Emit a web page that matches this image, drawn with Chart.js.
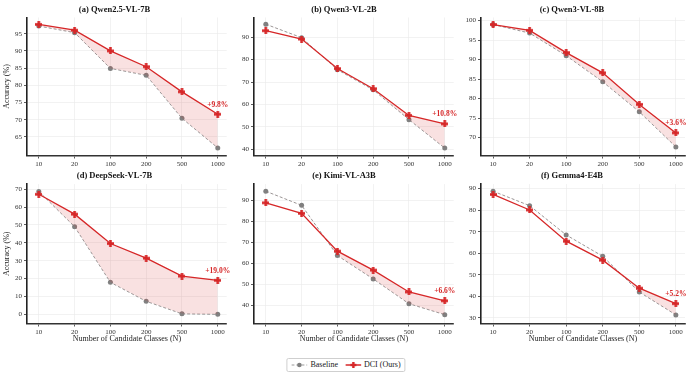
<!DOCTYPE html>
<html>
<head>
<meta charset="utf-8">
<script src="https://cdn.jsdelivr.net/npm/chart.js@4.4.1/dist/chart.umd.min.js"></script>
<style>
  body { margin: 0; background: #fff; }
  #wrap { position: relative; width: 691px; height: 379px; overflow: hidden; font-family: 'Liberation Serif', 'DejaVu Serif', serif; }
  #wrap canvas { position: absolute; }
  #legend { position: absolute; left: 346px; top: 358px; transform: translateX(-50%); height: 14px; padding: 0 4px; border: 1px solid #cfcfcf; border-radius: 2px;
    display: flex; align-items: center; white-space: nowrap; font-size: 8px; line-height: 8px; color: #222; box-sizing: border-box; }
  #legend span { margin-right: 7px; }
  #legend svg { margin-right: 3px; display: block; }
</style>
</head>
<body>
<div id="wrap">
  <div id="legend">
    <svg width="16" height="8"><line x1="0" y1="4" x2="16" y2="4" stroke="#808080" stroke-width="0.8" stroke-dasharray="3,2"/><circle cx="8" cy="4" r="2.3" fill="#808080"/></svg><span>Baseline</span>
    <svg width="16" height="8"><line x1="0" y1="4" x2="16" y2="4" stroke="#d62728" stroke-width="1.3"/><rect x="5" y="2.8" width="6" height="2.4" fill="#d62728"/><rect x="6.8" y="1" width="2.4" height="6" fill="#d62728"/></svg><span style="margin-right:0">DCI (Ours)</span>
  </div>
</div>
<script>
// Data
const classLabels = ['10', '20', '100', '200', '500', '1000'];

const baseQwen25_7B = [97.2, 95.3, 84.9, 82.9, 70.4, 61.8];
const dciQwen25_7B = [97.7, 96.0, 90.0, 85.4, 78.1, 71.6];

const baseQwen3_2B = [95.8, 89.8, 75.5, 66.5, 53.2, 40.5];
const dciQwen3_2B = [92.9, 89.2, 76.0, 67.0, 55.1, 51.3];

const baseQwen3_8B = [99.0, 96.8, 91.0, 84.3, 76.6, 67.6];
const dciQwen3_8B = [99.0, 97.5, 91.8, 86.6, 78.5, 71.2];

const baseDeepSeek = [68.7, 49.0, 17.9, 7.3, 0.3, 0.0];
const dciDeepSeek = [67.1, 56.0, 39.6, 31.4, 21.4, 19.0];

const baseKimi = [94.3, 87.6, 63.7, 52.6, 40.8, 35.6];
const dciKimi = [88.8, 83.8, 65.8, 56.8, 46.4, 42.2];

const baseGemma = [88.8, 82.1, 68.5, 58.6, 42.0, 31.4];
const dciGemma = [87.3, 80.1, 65.6, 56.8, 43.8, 36.6];

const gainLabels = ['+9.8%', '+10.8%', '+3.6%', '+19.0%', '+6.6%', '+5.2%'];

const ticksA = [65, 70, 75, 80, 85, 90, 95];
const ticksB = [40, 50, 60, 70, 80, 90];
const ticksC = [70, 75, 80, 85, 90, 95, 100];
const ticksD = [0, 10, 20, 30, 40, 50, 60, 70];
const ticksE = [40, 50, 60, 70, 80, 90];
const ticksF = [30, 40, 50, 60, 70, 80, 90];

const panels = [
	{ title: '(a) Qwen2.5-VL-7B', base: baseQwen25_7B, dci: dciQwen25_7B, yTicks: ticksA, yMin: 59.6, yMax: 99.7 },
	{ title: '(b) Qwen3-VL-2B', base: baseQwen3_2B, dci: dciQwen3_2B, yTicks: ticksB, yMin: 37.2, yMax: 98.8 },
	{ title: '(c) Qwen3-VL-8B', base: baseQwen3_8B, dci: dciQwen3_8B, yTicks: ticksC, yMin: 65.4, yMax: 100.8 },
	{ title: '(d) DeepSeek-VL-7B', base: baseDeepSeek, dci: dciDeepSeek, yTicks: ticksD, yMin: -5.1, yMax: 72.8 },
	{ title: '(e) Kimi-VL-A3B', base: baseKimi, dci: dciKimi, yTicks: ticksE, yMin: 31.4, yMax: 97.7 },
	{ title: '(f) Gemma4-E4B', base: baseGemma, dci: dciGemma, yTicks: ticksF, yMin: 27.4, yMax: 92.1 },
];

// layout boxes
const cols = [
	{ left: 0, width: 232, axisW: 27, padR: 3 },
	{ left: 232, width: 227, axisW: 22, padR: 3 },
	{ left: 459, width: 232, axisW: 22, padR: 6 },
];
const rows = [
	{ top: 0, height: 170, xAxisH: 14.5, padT: 5, padB: 2.3 },
	{ top: 168, height: 177, xAxisH: 21.5, padT: 3, padB: 2.9 },
];

const FONT = "'Liberation Serif', 'DejaVu Serif', serif";
const RED = '#d62728';
const GRAY = '#808080';

// filled plus marker
const plusMarker = document.createElement('canvas');
plusMarker.width = 7;
plusMarker.height = 7;
!(function () {
	const c = plusMarker.getContext('2d');
	c.fillStyle = RED;
	c.fillRect(0, 2.2, 7, 2.6);
	c.fillRect(2.2, 0, 2.6, 7);
})();

const gainLabel = {
	id: 'gainLabel',
	afterDatasetsDraw(chart, args, opts) {
		const pt = chart.getDatasetMeta(1).data[5];
		const ctx = chart.ctx;
		ctx.save();
		ctx.fillStyle = RED;
		ctx.font = 'bold 7.5px ' + FONT;
		ctx.textAlign = 'center';
		ctx.textBaseline = 'middle';
		ctx.fillText(opts.text, pt.x, pt.y - 9.5);
		ctx.restore();
	},
};

const wrap = document.getElementById('wrap');

panels.forEach((p, i) => {
	const col = cols[i % 3];
	const row = rows[Math.floor(i / 3)];
	const canvas = document.createElement('canvas');
	canvas.width = col.width;
	canvas.height = row.height;
	canvas.style.left = col.left + 'px';
	canvas.style.top = row.top + 'px';
	wrap.appendChild(canvas);

	new Chart(canvas, {
		type: 'line',
		data: {
			labels: classLabels,
			datasets: [
				{
					label: 'Baseline',
					data: p.base.map((v, k) => ({ x: k, y: v })),
					borderColor: GRAY,
					backgroundColor: GRAY,
					borderWidth: 0.8,
					borderDash: [3, 2],
					pointStyle: 'circle',
					pointRadius: 2.5,
					pointBorderWidth: 0,
					fill: false,
					order: 1,
				},
				{
					label: 'DCI (Ours)',
					data: p.dci.map((v, k) => ({ x: k, y: v })),
					borderColor: RED,
					backgroundColor: RED,
					borderWidth: 1.3,
					pointStyle: plusMarker,
					pointRadius: 4,
					fill: { target: '-1', above: 'rgba(214,39,40,0.14)', below: 'rgba(0,0,0,0)' },
					order: 0,
				},
			],
		},
		options: {
			responsive: false,
			animation: false,
			devicePixelRatio: 1,
			layout: { padding: { right: col.padR, left: 0, top: 0, bottom: 0 } },
			scales: {
				x: {
					type: 'linear',
					min: -0.33,
					max: 5.25,
					afterBuildTicks: (s) => { s.ticks = classLabels.map((l, k) => ({ value: k })); },
					afterFit: (s) => { s.height = row.xAxisH; },
					ticks: {
						callback: (v) => classLabels[v],
						font: { family: FONT, size: 7 },
						color: '#333',
						padding: 1,
						maxRotation: 0,
						autoSkip: false,
					},
					grid: {
						color: '#e9e9e9',
						lineWidth: 0.6,
						borderDash: [2, 2],
						tickColor: '#333',
						tickLength: 3,
						tickWidth: 0.8,
						tickBorderDash: [],
					},
					border: { display: true, color: '#333', width: 1.6 },
					title: {
						display: i >= 3,
						text: 'Number of Candidate Classes (N)',
						font: { family: FONT, size: 8 },
						color: '#222',
						padding: { top: 0, bottom: 1 },
					},
				},
				y: {
					min: p.yMin,
					max: p.yMax,
					afterBuildTicks: (s) => { s.ticks = p.yTicks.map((v) => ({ value: v })); },
					afterFit: (s) => { s.width = col.axisW; },
					ticks: {
						font: { family: FONT, size: 7 },
						color: '#333',
						padding: 2,
					},
					grid: {
						color: '#e9e9e9',
						lineWidth: 0.6,
						borderDash: [2, 2],
						tickColor: '#333',
						tickLength: 3,
						tickWidth: 0.8,
						tickBorderDash: [],
					},
					border: { display: true, color: '#222', width: 1.6 },
					title: {
						display: i % 3 === 0,
						text: 'Accuracy (%)',
						font: { family: FONT, size: 8 },
						color: '#222',
						padding: { top: 2, bottom: 0 },
					},
				},
			},
			plugins: {
				legend: { display: false },
				tooltip: { enabled: false },
				title: {
					display: true,
					text: p.title,
					font: { family: FONT, size: 8.5, weight: 'bold' },
					color: '#111',
					padding: { top: row.padT, bottom: row.padB },
				},
				gainLabel: { text: gainLabels[i] },
			},
		},
		plugins: [gainLabel],
	});
});
</script>
</body>
</html>
